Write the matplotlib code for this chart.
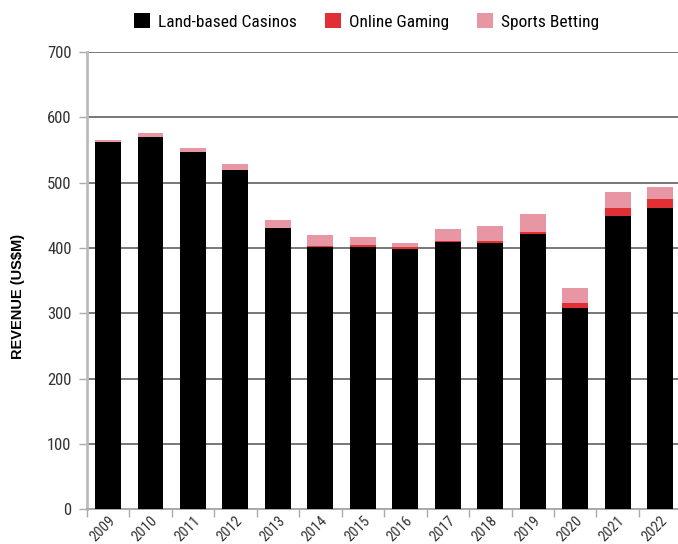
import matplotlib
matplotlib.use("Agg")
import matplotlib.pyplot as plt
import matplotlib.font_manager as fm
from matplotlib.transforms import ScaledTranslation
import numpy as np
from matplotlib.patches import Patch

years = ["2009", "2010", "2011", "2012", "2013", "2014", "2015", "2016",
         "2017", "2018", "2019", "2020", "2021", "2022"]
land_based = [562, 570, 547, 519, 431, 402, 402, 398, 409, 407, 421, 308, 449, 461]
online_gaming = [0, 0, 0, 0, 0, 1.5, 3, 3, 1.5, 3, 3, 7.5, 12, 14]
sports_betting = [3, 6, 6, 9, 12, 17, 12, 6, 18, 23, 27.5, 23, 24.5, 18.5]
series_names = ["Land-based Casinos", "Online Gaming", "Sports Betting"]
colors = ["#000000", "#e03033", "#e996a4"]

# pick a condensed font if one is installed
names = {f.name for f in fm.fontManager.ttflist}
cond_family = None
cond_stretch = "normal"
for cand in ["Liberation Sans Narrow", "Roboto Condensed", "Open Sans Condensed",
             "Noto Sans Condensed", "DejaVu Sans Condensed", "Arial Narrow"]:
    if cand in names:
        cond_family = cand
        break
if cond_family is None:
    for f in fm.fontManager.ttflist:
        st = f.stretch
        if (isinstance(st, str) and "condensed" in st) or (isinstance(st, int) and st < 500):
            cond_family = f.name
            cond_stretch = "condensed"
            break
scale = 1.0
if cond_family is None:
    cond_family = "Roboto"
    scale = 0.85

plt.rcParams["font.family"] = [cond_family, "DejaVu Sans"]
plt.rcParams["font.stretch"] = cond_stretch

fig = plt.figure(figsize=(6.78, 5.44), dpi=100)
ax = fig.add_axes([0.128, 0.0643, 0.872, 0.8397])

x = np.arange(len(years))
w = 0.61
land = np.array(land_based, dtype=float)
onl = np.array(online_gaming, dtype=float)
spb = np.array(sports_betting, dtype=float)
ax.bar(x, land, w, color=colors[0], zorder=3)
ax.bar(x, onl, w, bottom=land, color=colors[1], zorder=3)
ax.bar(x, spb, w, bottom=land + onl, color=colors[2], zorder=3)

ax.set_ylim(0, 700)
ax.set_xlim(-0.5, 13.42)
ax.set_yticks(np.arange(0, 701, 100))
ax.tick_params(axis="y", length=6, width=1, color="#aaaaaa", labelsize=12 * scale,
               labelcolor="#333333", pad=5)
ax.yaxis.grid(True, color="#777777", linewidth=1.4, zorder=0)
ax.set_axisbelow(True)

ax.set_xticks(x - 0.5, minor=False)
ax.set_xticklabels([])
ax.set_xticks(x, minor=True)
ax.set_xticklabels(years, minor=True, rotation=45, ha="right", va="top",
                   rotation_mode="anchor", fontsize=10.5 * scale, color="#333333")
off = ScaledTranslation(7 / 100, 0, fig.dpi_scale_trans)
for lab in ax.get_xticklabels(minor=True):
    lab.set_transform(lab.get_transform() + off)
ax.tick_params(axis="x", which="major", length=6, width=1, color="#aaaaaa")
ax.tick_params(axis="x", which="minor", length=0, pad=3)

for s in ["top", "right"]:
    ax.spines[s].set_visible(False)
ax.spines["left"].set_color("#bbbbbb")
ax.spines["left"].set_linewidth(2)
ax.spines["bottom"].set_color("#aaaaaa")
ax.spines["bottom"].set_linewidth(1.4)

ax.set_ylabel("REVENUE (US$M)", fontsize=10.5, fontweight="heavy",
              family=["Liberation Sans", "DejaVu Sans"], fontstretch="normal")
ax.yaxis.set_label_coords(-0.105, 0.465)

handles = [Patch(facecolor=c, edgecolor="none") for c in colors]
fig.legend(handles, series_names, loc="center", bbox_to_anchor=(0.541, 0.961),
           ncol=3, frameon=False, fontsize=12.5 * scale, handlelength=0.9,
           handleheight=1.0, handletextpad=0.5, columnspacing=1.6)

fig.savefig("out.png", dpi=100)
